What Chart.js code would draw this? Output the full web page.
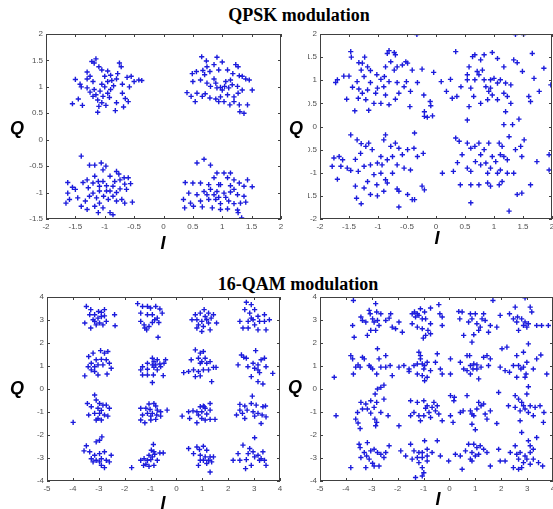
<!DOCTYPE html>
<html>
<head>
<meta charset="utf-8">
<script src="https://cdn.jsdelivr.net/npm/chart.js@4.4.1/dist/chart.umd.min.js"></script>
<style>
  html, body { margin: 0; padding: 0; width: 553px; height: 509px; overflow: hidden; background: #fff; }
  canvas { position: absolute; }
  .lbl { position: absolute; transform: translate(-50%, -50%); white-space: nowrap; color: #000; }
  .title { font: bold 18px "Liberation Serif", "Times New Roman", serif; }
  .axis { font: italic bold 18px "Liberation Sans", Arial, sans-serif; }
</style>
</head>
<body>
<div class="lbl title" style="left:299px; top:15px;">QPSK modulation</div>
<div class="lbl title" style="left:298px; top:284px;">16-QAM modulation</div>

<canvas id="qpskLow"></canvas>
<canvas id="qpskHigh"></canvas>
<canvas id="qamLow"></canvas>
<canvas id="qamHigh"></canvas>

<div class="lbl axis" style="left:17px; top:128px;">Q</div>
<div class="lbl axis" style="left:296px; top:128px;">Q</div>
<div class="lbl axis" style="left:17px; top:388px;">Q</div>
<div class="lbl axis" style="left:295px; top:387px;">Q</div>
<div class="lbl axis" style="left:163px; top:243px;">I</div>
<div class="lbl axis" style="left:437px; top:238px;">I</div>
<div class="lbl axis" style="left:163px; top:503px;">I</div>
<div class="lbl axis" style="left:438px; top:499px;">I</div>

<script>
// received symbols, [I, Q] pairs
const qpskLowNoise = [
  // (-1, 1)
  [-1.55,0.68],[-1.45,0.77],[-1.38,0.65],[-1.5,1.14],[-1.42,1.05],[-1.3,1.28],[-1.22,1.48],[-1.15,1.53],
  [-1.18,1.45],[-1.1,1.38],[-1.05,1.32],[-1.25,1.2],[-1.2,1.1],[-1.3,0.98],[-1.25,0.9],[-1.15,0.85],
  [-1.12,0.75],[-1.05,0.7],[-1.1,0.63],[-0.98,0.65],[-1.12,0.52],[-0.95,0.88],[-0.9,0.95],[-0.85,1.02],
  [-0.8,1.15],[-0.78,1.25],[-0.75,1.45],[-0.72,1.38],[-0.7,1.05],[-0.62,1.18],[-0.55,1.2],[-0.5,1.1],
  [-0.42,1.13],[-0.37,1.12],[-0.58,1.0],[-0.65,0.78],[-0.7,0.88],[-0.6,0.72],[-0.68,0.62],[-0.82,0.55],
  [-0.8,0.7],[-0.92,0.8],[-1.0,1.0],[-1.05,1.05],[-0.95,1.1],[-1.0,1.2],[-0.9,1.22],[-1.08,0.92],
  [-1.18,0.95],[-1.3,1.15],[-1.4,1.0],[-0.95,1.3],[-0.88,1.12],[-1.2,0.82],[-1.03,0.82],
  // (1, 1)
  [0.65,1.57],[0.73,1.49],[0.91,1.56],[1.0,1.47],[0.86,1.42],[0.74,1.38],[0.49,1.25],[0.56,1.29],
  [0.67,1.31],[0.79,1.29],[0.7,1.23],[0.94,1.32],[1.09,1.32],[1.23,1.42],[1.27,1.38],[1.34,1.2],
  [1.4,1.15],[1.46,1.13],[1.29,1.21],[1.18,1.25],[0.5,1.1],[0.63,1.13],[0.86,1.15],[0.4,0.89],
  [0.47,0.82],[0.57,0.88],[0.66,0.82],[0.71,0.87],[0.54,0.72],[0.79,0.79],[0.89,0.77],[0.94,0.72],
  [0.8,1.01],[0.89,1.07],[0.97,0.99],[1.04,1.01],[1.11,0.98],[1.17,1.04],[1.0,0.94],[0.91,0.98],
  [1.14,1.13],[1.26,1.01],[1.34,0.94],[1.51,0.94],[1.27,0.88],[1.09,0.85],[1.2,0.81],[1.03,0.72],
  [1.13,0.66],[1.29,0.66],[1.43,0.66],[1.3,0.53],[1.37,0.5],[0.97,0.81],[1.06,1.1],[0.74,1.07],[1.2,0.72],
  // (-1, -1)
  [-1.4,-0.31],[-1.26,-0.48],[-1.17,-0.48],[-1.06,-0.44],[-1.03,-0.57],[-0.98,-0.5],[-0.8,-0.6],[-0.76,-0.65],
  [-0.67,-0.72],[-0.6,-0.72],[-0.56,-0.83],[-0.66,-0.84],[-0.63,-0.94],[-0.74,-0.93],[-0.86,-0.88],[-0.97,-0.87],
  [-1.09,-0.88],[-1.2,-0.82],[-1.3,-0.76],[-1.37,-0.81],[-1.63,-0.81],[-1.55,-0.9],[-1.5,-0.94],[-1.63,-1.01],
  [-1.66,-1.2],[-1.6,-1.13],[-1.46,-1.1],[-1.4,-1.26],[-1.33,-1.16],[-1.26,-1.07],[-1.2,-1.01],[-1.14,-1.1],
  [-1.09,-1.2],[-1.02,-1.07],[-0.94,-1.13],[-0.86,-1.07],[-0.8,-1.16],[-0.71,-1.13],[-0.66,-1.2],[-0.53,-1.18],
  [-1.17,-1.26],[-1.11,-1.38],[-1.03,-1.29],[-0.91,-1.38],[-0.86,-1.42],[-1.3,-1.32],[-0.97,-0.97],[-1.09,-0.97],
  [-0.91,-0.97],[-0.83,-0.79],[-0.91,-0.69],[-1.17,-0.69],[-1.11,-0.79],[-1.28,-0.91],[-0.8,-1.0],[-1.03,-0.79],[-0.74,-0.76],
  // (1, -1)
  [0.69,-0.37],[0.57,-0.44],[0.8,-0.48],[1.03,-0.63],[1.14,-0.63],[0.91,-0.63],[0.86,-0.72],[1.09,-0.72],
  [1.2,-0.76],[1.43,-0.76],[1.29,-0.82],[0.37,-0.81],[0.5,-0.82],[0.63,-0.82],[0.77,-0.85],[0.94,-0.85],
  [1.14,-0.87],[1.37,-0.88],[1.51,-0.89],[0.43,-1.01],[0.57,-1.04],[0.69,-0.98],[0.8,-0.94],[0.91,-0.98],
  [1.03,-1.01],[1.14,-0.99],[1.26,-1.04],[1.37,-1.07],[0.34,-1.13],[0.46,-1.2],[0.63,-1.16],[0.77,-1.13],
  [0.89,-1.13],[0.97,-1.21],[1.11,-1.16],[1.2,-1.21],[1.31,-1.2],[1.4,-1.18],[0.36,-1.29],[0.51,-1.26],
  [0.66,-1.27],[0.83,-1.29],[0.97,-1.32],[1.09,-1.31],[1.26,-1.33],[1.27,-1.38],[1.33,-1.48],[0.94,-1.09],
  [0.86,-1.04],[0.97,-0.85],[0.74,-1.04],[1.2,-0.94],[1.06,-1.09]
];

const qpskHighNoise = [
  // (-1, 1)
  [-1.47,1.62],[-1.46,1.5],[-1.59,1.09],[-1.5,1.09],[-1.7,1.01],[-1.73,0.95],[-1.54,0.59],[-1.4,0.34],
  [-1.44,0.85],[-1.36,0.97],[-1.33,1.38],[-1.27,1.37],[-1.23,1.5],[-1.18,1.29],[-1.13,1.21],[-1.29,1.22],
  [-1.24,1.08],[-1.33,0.81],[-1.27,0.72],[-1.34,0.61],[-1.21,0.58],[-1.16,0.35],[-1.07,0.5],[-1.02,1.12],
  [-0.95,1.02],[-0.89,1.08],[-0.84,1.58],[-0.81,1.64],[-0.72,1.6],[-0.7,1.55],[-0.78,1.4],[-0.87,1.29],
  [-0.72,1.22],[-0.67,1.29],[-0.58,1.33],[-0.52,1.4],[-0.49,1.37],[-0.81,0.97],[-0.9,0.86],[-1.01,0.83],
  [-0.95,0.5],[-0.81,0.47],[-0.7,0.59],[-0.64,0.72],[-0.55,0.86],[-0.51,0.97],[-0.45,0.43],[-0.44,0.76],
  [-0.41,1.22],[-0.24,1.24],[-0.04,1.17],[-0.32,0.95],[-0.21,0.68],[-0.1,0.54],[-0.09,0.45],[-0.2,0.32],
  [-0.15,0.2],[-0.06,0.23],[-0.2,0.22],[-1.13,0.95],[-1.18,0.79],[-1.04,0.72],[-0.87,0.68],[-0.67,0.95],
  // (1, 1)
  [-0.33,1.99],[0.34,1.62],[0.25,1.02],[0.09,0.97],[0.18,0.76],[0.28,0.61],[0.36,0.65],[0.43,0.86],
  [0.54,1.01],[0.57,1.29],[0.63,1.51],[0.67,1.55],[0.77,1.44],[0.83,1.55],[0.97,1.6],[1.06,1.47],
  [0.71,1.19],[0.74,1.12],[0.8,1.22],[0.83,1.01],[0.94,1.01],[1.0,1.04],[1.06,0.94],[1.11,1.01],
  [1.2,0.94],[1.29,0.9],[1.17,1.29],[1.34,1.44],[1.4,1.38],[1.37,1.99],[1.51,1.99],[1.49,1.19],
  [1.66,1.58],[1.69,1.04],[1.86,1.26],[1.98,0.9],[1.78,0.76],[1.63,0.54],[1.6,0.65],[0.6,0.83],
  [0.65,0.65],[0.77,0.5],[0.89,0.58],[0.97,0.68],[1.06,0.58],[1.2,0.32],[1.29,0.5],[1.17,0.04],
  [1.32,0.04],[1.43,0.16],[0.54,0.14],[0.57,0.43],[0.86,0.86],[0.94,0.83],[0.91,0.76],[1.17,0.72],
  [1.23,0.65],[0.54,1.12],[0.67,1.01],
  // (-1, -1)
  [-1.47,-0.18],[-1.76,-0.68],[-1.67,-0.65],[-1.79,-0.86],[-1.7,-1.14],[-1.61,-0.72],[-1.53,-0.9],[-1.47,-0.95],
  [-1.36,-0.29],[-1.29,-0.37],[-1.21,-0.43],[-1.16,-0.36],[-1.1,-0.5],[-1.3,-0.58],[-1.39,-0.71],[-1.34,-0.97],
  [-1.24,-0.86],[-1.13,-0.83],[-1.01,-0.79],[-0.95,-0.65],[-0.9,-0.29],[-0.87,-0.18],[-0.78,-0.43],[-0.7,-0.36],
  [-0.64,-0.47],[-0.58,-0.61],[-0.49,-0.5],[-0.37,-0.14],[-0.38,-0.47],[-0.32,-0.65],[-0.22,-0.58],[-0.84,-0.72],
  [-0.75,-0.65],[-0.67,-0.83],[-0.55,-0.9],[-0.44,-0.94],[-0.95,-1.01],[-1.07,-1.04],[-0.87,-1.15],[-0.75,-1.01],
  [-1.18,-1.19],[-1.39,-1.29],[-1.24,-1.33],[-1.13,-1.47],[-1.01,-1.5],[-0.9,-1.4],[-0.84,-1.22],[-1.29,-1.67],
  [-0.64,-1.4],[-0.67,-1.35],[-0.49,-1.47],[-0.41,-1.58],[-0.37,-1.58],[-0.64,-1.74],[-0.24,-1.29],[-0.2,-1.37],
  [-1.02,-1.26],[-1.37,-1.55],[-1.64,-0.86],[-0.93,-0.83],
  // (1, -1)
  [0.11,-1.01],[0.3,-0.97],[0.34,-0.25],[0.4,-0.32],[0.45,-0.61],[0.54,-0.36],[0.6,-0.47],[0.67,-0.43],
  [0.74,-0.36],[0.83,-0.5],[0.91,-0.36],[0.97,-0.65],[1.09,-0.36],[1.14,-0.43],[1.11,-0.61],[1.17,-0.65],
  [1.26,-0.22],[1.37,-0.5],[1.46,-0.43],[1.52,-0.29],[1.48,-0.65],[1.74,-0.76],[1.95,-0.61],[1.95,-0.94],
  [0.54,-0.9],[0.6,-0.97],[0.68,-0.76],[0.77,-0.83],[0.86,-0.79],[0.94,-0.9],[1.06,-1.01],[1.11,-0.94],
  [1.23,-1.01],[0.42,-1.26],[0.6,-1.26],[0.74,-1.26],[0.89,-1.22],[0.94,-1.29],[1.09,-1.26],[1.14,-1.19],
  [1.4,-1.47],[1.48,-1.44],[1.63,-1.26],[0.6,-1.65],[1.26,-1.83],[0.37,-0.78],[1.23,-0.72],[1.34,-1.01],
  [0.77,-0.61],[1.03,-0.76],[0.89,-1.01]
];

const qamLowNoise = [
  // row Q = 3
  [-3.48,3.59],[-3.31,3.45],[-3.54,2.87],[-3.31,2.65],[-3.16,3.23],[-3.22,3.01],[-3.03,3.08],[-2.9,3.33],
  [-2.78,3.45],[-2.97,2.87],[-2.84,2.79],[-3.1,2.79],[-2.71,2.94],[-2.39,3.23],[-2.37,2.75],[-3.01,3.37],
  [-2.9,3.15],[-2.78,3.18],[-3.16,2.94],[-3.35,3.23],
  [-1.5,3.71],[-1.31,3.59],[-1.38,3.3],[-1.12,3.59],[-1.0,3.52],[-0.8,3.59],[-0.64,3.48],[-1.12,3.23],
  [-0.93,3.23],[-0.74,3.08],[-0.55,3.3],[-1.38,2.94],[-1.25,2.79],[-1.06,2.72],[-1.15,2.57],[-0.93,2.89],
  [-0.84,3.01],[-0.68,2.89],[-0.71,2.25],[-1.22,2.65],
  [0.73,3.23],[0.92,3.3],[1.07,3.45],[1.24,3.3],[1.43,3.23],[0.79,3.01],[0.98,2.94],[1.17,3.01],
  [1.34,3.08],[1.55,2.87],[0.85,2.79],[1.04,2.72],[1.24,2.87],[1.3,2.57],[0.98,2.5],[0.79,2.65],
  [0.6,3.01],[1.11,3.15],
  [2.7,3.77],[2.89,3.67],[2.64,3.45],[2.83,3.3],[3.02,3.45],[3.15,3.16],[3.4,3.23],[2.45,2.94],
  [2.77,2.94],[2.96,3.01],[3.21,2.94],[3.4,2.94],[3.59,3.01],[2.77,2.65],[3.15,2.57],[3.46,2.57],
  [2.57,2.65],[3.02,2.79],[2.89,3.08],
  // row Q = 1
  [-3.39,1.41],[-3.22,1.56],[-2.93,1.67],[-2.78,1.56],[-2.65,1.63],[-3.29,1.12],[-3.1,1.27],[-2.9,1.29],
  [-2.71,1.27],[-2.59,1.12],[-2.52,0.9],[-3.41,0.97],[-3.16,0.97],[-3.03,1.05],[-2.84,1.05],[-3.54,0.57],
  [-3.16,0.76],[-3.03,0.61],[-2.68,0.65],[-3.29,0.83],
  [-1.31,0.97],[-1.12,1.12],[-0.93,1.34],[-0.87,1.19],[-0.74,1.27],[-0.61,0.97],[-0.42,1.27],[-0.48,1.12],
  [-1.12,0.86],[-0.93,1.05],[-0.8,1.05],[-0.74,0.83],[-1.31,0.61],[-1.12,0.61],[-0.89,0.61],[-0.51,0.58],
  [-0.93,0.28],[-1.38,0.83],[-0.64,1.09],[-0.87,0.94],
  [0.73,1.7],[0.92,1.56],[1.04,1.63],[0.57,1.27],[0.85,1.34],[0.98,1.19],[1.11,1.34],[1.17,1.12],
  [1.3,1.19],[1.43,0.94],[1.53,0.94],[0.28,0.71],[0.47,0.76],[0.66,0.83],[0.85,0.76],[1.04,0.83],
  [1.24,0.83],[0.73,0.54],[0.92,0.57],[1.36,0.32],[0.92,1.12],
  [2.51,1.48],[2.6,1.38],[3.06,1.67],[3.4,1.34],[3.27,1.27],[2.96,1.12],[3.15,1.05],[3.46,0.97],
  [3.72,0.68],[2.38,1.05],[2.76,0.97],[3.02,0.9],[3.15,0.83],[3.21,0.71],[2.89,0.54],[3.15,0.32],
  [3.34,0.22],[2.7,1.34],
  // row Q = -1
  [-3.16,-0.26],[-3.1,-0.48],[-3.44,-0.63],[-3.03,-0.84],[-2.97,-0.63],[-2.84,-0.7],[-2.71,-0.7],[-3.29,-0.77],
  [-3.39,-1.13],[-3.16,-1.06],[-2.97,-1.06],[-2.78,-1.13],[-2.65,-1.18],[-3.03,-1.28],[-3.1,-1.35],[-2.9,-1.35],
  [-2.59,-0.84],[-2.9,-0.93],[-3.99,-1.45],
  [-1.38,-0.84],[-1.18,-0.84],[-0.87,-0.63],[-0.8,-0.74],[-1.02,-0.89],[-0.74,-0.92],[-0.61,-0.99],[-0.36,-0.92],
  [-1.31,-1.13],[-1.12,-1.06],[-0.93,-1.06],[-0.76,-1.13],[-1.38,-1.35],[-1.22,-1.47],[-0.99,-1.35],[-0.8,-1.32],
  [-0.99,-1.18],[-0.61,-1.18],[-1.06,-0.65],
  [0.22,-1.18],[0.47,-0.99],[0.64,-0.95],[0.79,-0.99],[0.92,-0.77],[1.04,-0.74],[1.11,-0.84],[1.3,-0.63],
  [1.3,-0.92],[0.98,-0.99],[1.17,-1.09],[0.51,-1.28],[0.79,-1.47],[0.98,-1.28],[1.11,-1.35],[1.3,-1.32],
  [1.49,-1.32],[0.85,-1.13],[1.07,-0.77],
  [2.93,-0.31],[2.45,-0.67],[2.64,-0.74],[2.89,-0.63],[3.08,-0.7],[3.34,-0.77],[3.44,-0.74],[2.32,-1.13],
  [2.55,-1.06],[2.73,-0.92],[2.96,-0.99],[3.15,-1.06],[3.31,-1.13],[3.46,-1.21],[2.64,-1.28],[3.02,-1.18],
  [3.27,-1.5],[2.45,-0.92],
  // row Q = -3
  [-2.88,-2.08],[-3.1,-2.3],[-2.97,-2.23],[-3.48,-2.47],[-3.57,-2.69],[-3.35,-2.73],[-3.16,-2.88],[-2.97,-2.81],
  [-2.78,-2.73],[-2.52,-2.88],[-3.1,-3.1],[-2.9,-3.03],[-2.71,-3.1],[-2.59,-3.17],[-3.22,-3.17],[-2.9,-3.32],
  [-2.78,-3.42],[-3.29,-3.03],[-2.97,-3.17],
  [-0.89,-2.41],[-0.97,-2.66],[-0.87,-2.73],[-0.64,-2.78],[-0.51,-2.78],[-1.06,-2.88],[-0.93,-2.95],[-1.25,-3.03],
  [-1.12,-3.1],[-0.99,-3.07],[-1.38,-3.1],[-1.18,-3.27],[-1.06,-3.36],[-0.87,-3.32],[-0.74,-3.1],[-1.27,-3.32],
  [-1.73,-3.42],[-0.84,-2.84],
  [0.47,-2.59],[0.79,-2.52],[0.89,-2.63],[1.04,-2.49],[1.17,-2.66],[0.66,-2.81],[0.92,-2.88],[1.11,-2.95],
  [1.3,-2.95],[1.43,-2.95],[0.92,-3.1],[1.24,-3.1],[1.36,-3.17],[0.85,-3.32],[1.17,-3.24],[1.3,-3.61],[1.04,-3.1],
  [3.02,-2.12],[2.57,-2.44],[2.83,-2.59],[3.34,-2.73],[2.96,-2.73],[3.15,-2.88],[2.38,-2.81],[2.77,-2.81],
  [2.19,-3.1],[2.45,-3.1],[2.7,-3.07],[3.02,-2.95],[3.27,-3.03],[3.4,-3.1],[3.46,-3.32],[2.67,-3.46],
  [2.89,-3.32],[3.21,-3.1]
];

const qamHighNoise = [
  // row Q = 3
  [-3.71,3.85],[-3.74,2.76],[-3.68,2.25],[-3.42,3.13],[-3.36,2.98],[-3.23,2.91],[-3.06,3.27],[-2.97,3.05],
  [-2.91,2.91],[-2.81,3.35],[-2.78,2.98],[-3.17,2.33],[-3.04,2.55],[-2.85,2.55],[-2.72,2.76],[-2.65,3.27],
  [-2.85,3.71],[-2.46,2.98],[-2.33,3.08],[-2.27,3.27],[-2.21,2.69],[-2.08,2.62],[-1.95,2.91],[-1.82,2.47],[-3.1,3.42],
  [-1.44,3.27],[-1.35,3.35],[-1.24,3.27],[-1.18,3.2],[-1.05,3.05],[-0.92,3.05],[-0.73,3.52],[-0.41,3.67],
  [-0.37,3.27],[-0.28,3.13],[-0.28,2.76],[-1.44,2.84],[-1.24,2.69],[-1.05,2.62],[-0.83,2.55],[-1.01,2.21],
  [-0.92,2.33],[-0.73,2.4],[-0.73,2.84],[-1.12,3.49],[-1.31,3.13],[-0.96,3.35],
  [0.36,3.37],[0.49,3.35],[0.4,3.05],[0.81,3.27],[1.0,3.27],[1.32,3.27],[1.68,3.85],[0.74,2.91],
  [0.87,3.05],[1.06,2.84],[1.19,2.69],[1.13,2.55],[0.94,2.36],[0.87,2.04],[0.55,2.33],[1.38,2.98],
  [1.58,2.76],[1.83,2.69],[1.96,3.2],[1.51,2.47],[1.26,3.05],
  [2.54,3.56],[2.92,3.96],[2.32,3.27],[2.47,3.05],[2.63,3.13],[2.79,3.05],[2.92,2.91],[3.05,2.84],
  [3.12,3.56],[3.18,3.35],[2.86,2.76],[2.99,2.69],[2.67,2.55],[3.05,1.96],[3.37,2.76],[3.56,2.76],
  [3.82,2.76],[2.22,1.82],[2.03,1.75],[2.6,2.91],
  // row Q = 1
  [-3.81,1.45],[-3.74,1.31],[-3.71,0.65],[-3.62,0.95],[-3.53,1.05],[-3.45,0.95],[-3.36,1.38],[-3.1,1.02],
  [-3.04,0.95],[-2.97,0.87],[-2.78,1.75],[-2.72,1.31],[-2.46,1.45],[-2.81,0.65],[-2.65,0.95],[-2.46,0.95],
  [-2.29,1.02],[-1.95,0.95],[-2.21,0.58],[-2.65,0.07],[-2.53,0.17],[-2.78,0.0],[-2.87,-0.22],[-4.45,0.51],[-3.29,1.31],
  [-1.56,0.87],[-1.56,0.76],[-1.24,1.09],[-1.18,1.6],[-1.12,1.31],[-1.05,1.09],[-0.96,1.02],[-0.86,1.16],
  [-1.24,0.65],[-1.05,0.58],[-0.96,0.36],[-0.86,0.51],[-0.73,0.8],[-0.54,1.16],[-0.47,1.53],[-0.35,0.87],
  [-0.28,0.65],[-1.76,1.02],[-1.37,1.02],[-0.99,0.87],[-1.12,1.45],
  [0.04,1.31],[0.04,0.65],[0.42,1.16],[0.55,0.87],[0.68,1.45],[0.78,1.45],[0.81,1.02],[0.94,1.09],
  [1.06,1.05],[1.06,0.87],[0.81,0.65],[0.68,0.8],[1.13,0.44],[1.32,1.38],[1.45,1.45],[1.58,1.31],
  [1.51,1.02],[1.22,0.95],[1.96,0.95],[2.15,0.8],[0.91,0.87],
  [2.6,1.45],[2.86,1.6],[2.99,1.16],[2.67,1.02],[2.76,0.87],[2.86,0.95],[2.6,0.51],[2.96,0.65],
  [3.24,0.87],[3.37,1.31],[3.53,1.48],[2.32,0.73],[2.47,1.02],[3.76,0.65],[3.05,0.1],[2.92,0.51],
  // row Q = -1
  [-3.42,-0.58],[-3.23,-0.65],[-3.55,-1.02],[-3.62,-1.31],[-3.53,-1.48],[-3.45,-1.72],[-3.17,-0.87],[-3.04,-1.05],
  [-2.91,-0.8],[-2.81,-0.58],[-2.88,-1.31],[-2.81,-1.45],[-2.85,-1.6],[-2.65,-1.02],[-2.53,-0.44],[-2.37,-1.16],
  [-1.95,-1.6],[-4.38,-1.16],[-3.04,-0.51],[-3.36,-0.87],
  [-1.5,-0.51],[-1.24,-0.58],[-0.99,-0.51],[-0.86,-0.73],[-0.67,-0.8],[-0.6,-0.58],[-0.54,-0.95],[-1.37,-1.02],
  [-1.18,-1.16],[-0.99,-1.16],[-0.79,-1.02],[-0.73,-1.24],[-0.41,-1.09],[-0.28,-1.38],[-1.12,-1.38],[-1.5,-1.16],
  [-0.47,-0.73],[-0.92,-0.84],
  [0.04,-0.29],[0.19,-0.36],[0.17,-0.51],[0.04,-1.16],[0.14,-1.45],[0.42,-1.02],[0.53,-0.95],[0.68,-0.29],
  [0.81,-0.95],[0.87,-1.09],[0.94,-1.16],[0.87,-1.53],[1.0,-1.77],[1.13,-0.58],[1.22,-0.73],[1.32,-0.65],
  [1.38,-1.09],[1.45,-1.31],[1.58,-0.95],[1.83,-1.5],[1.9,-0.15],[1.06,-0.87],
  [2.28,-0.73],[2.54,-0.29],[2.67,-0.44],[2.79,-0.58],[2.99,-0.22],[2.54,-0.8],[2.73,-0.95],[2.92,-0.87],
  [3.05,-1.02],[3.12,-0.73],[3.31,-0.8],[3.5,-0.73],[3.65,-1.02],[3.63,-1.45],[2.73,-1.38],[2.79,-1.89],
  [3.24,-1.16],[2.86,-0.73],
  // row Q = -3
  [-3.49,-2.4],[-3.45,-2.55],[-3.81,-3.42],[-3.29,-2.76],[-3.17,-2.33],[-3.2,-2.91],[-3.04,-2.69],[-2.91,-2.62],
  [-2.78,-2.76],[-2.65,-2.84],[-2.46,-2.76],[-2.33,-2.47],[-3.1,-3.05],[-2.97,-3.23],[-2.91,-3.35],[-2.72,-3.35],
  [-3.23,-3.42],[-3.42,-2.98],[-1.88,-2.69],[-2.53,-2.98],
  [-1.5,-2.4],[-1.37,-2.69],[-1.18,-2.76],[-1.05,-2.76],[-0.96,-2.25],[-0.86,-2.62],[-0.67,-2.76],[-1.24,-2.98],
  [-1.05,-2.98],[-0.86,-2.91],[-0.35,-2.91],[-0.47,-2.25],[-1.44,-3.05],[-1.18,-3.2],[-1.05,-3.42],[-1.31,-3.85],
  [-1.05,-3.78],[-0.99,-3.64],[-0.86,-3.13],[-1.69,-2.91],
  [-0.03,-3.13],[0.23,-2.84],[0.42,-2.91],[0.49,-3.49],[0.62,-2.69],[0.74,-2.4],[0.94,-2.4],[1.06,-2.55],
  [1.19,-2.47],[1.32,-2.62],[0.87,-2.76],[1.0,-2.91],[0.87,-3.13],[1.45,-2.76],[1.58,-3.35],[1.13,-2.84],
  [1.9,-2.62],[1.96,-3.13],[0.81,-3.05],
  [2.54,-2.47],[3.05,-2.25],[3.12,-2.47],[3.24,-2.62],[3.37,-2.11],[2.35,-2.76],[2.6,-2.84],[2.73,-2.76],
  [2.92,-2.91],[2.67,-3.05],[2.86,-3.2],[2.99,-3.05],[3.24,-3.05],[3.44,-3.2],[3.6,-3.35],[2.47,-3.42],
  [2.67,-3.49],[2.79,-3.42],[3.12,-3.27],[2.15,-3.13],[3.12,-2.76]
];

// MATLAB style box with inward tick marks on all four sides
const boxTicks = {
  id: 'boxTicks',
  afterDatasetsDraw(chart) {
    const {ctx, chartArea: a, scales: {x, y}} = chart;
    ctx.save();
    ctx.strokeStyle = '#404040';
    ctx.lineWidth = 1;
    ctx.beginPath();
    for (const t of x.ticks) {
      const px = Math.round(x.getPixelForValue(t.value)) + 0.5;
      ctx.moveTo(px, a.bottom); ctx.lineTo(px, a.bottom - 3);
      ctx.moveTo(px, a.top); ctx.lineTo(px, a.top + 3);
    }
    for (const t of y.ticks) {
      const py = Math.round(y.getPixelForValue(t.value)) + 0.5;
      ctx.moveTo(a.left, py); ctx.lineTo(a.left + 3, py);
      ctx.moveTo(a.right, py); ctx.lineTo(a.right - 3, py);
    }
    ctx.stroke();
    ctx.strokeRect(Math.round(a.left) + 0.5, Math.round(a.top) + 0.5,
                   Math.round(a.right - a.left) - 1, Math.round(a.bottom - a.top) - 1);
    ctx.restore();
  }
};

const tickFont = {family: '"Liberation Sans", Arial, sans-serif', size: 8};

function makePanel(id, points, left, top, plotW, plotH, yAxisW, xr, yr) {
  const canvas = document.getElementById(id);
  const pad = 8, xAxisH = 14;
  canvas.width = yAxisW + plotW + pad;
  canvas.height = pad + plotH + xAxisH;
  canvas.style.left = (left - yAxisW) + 'px';
  canvas.style.top = (top - pad) + 'px';

  new Chart(canvas, {
    type: 'scatter',
    data: {
      datasets: [{
        data: points.map(p => ({x: p[0], y: p[1]})),
        pointStyle: 'cross',
        pointRadius: 2.6,
        pointBorderWidth: 1.4,
        borderColor: '#1c1cdc',
        backgroundColor: '#1c1cdc'
      }]
    },
    options: {
      animation: false,
      responsive: false,
      devicePixelRatio: 1,
      layout: {padding: {top: pad, right: pad, bottom: 0, left: 0}},
      plugins: {legend: {display: false}, tooltip: {enabled: false}},
      scales: {
        x: {
          type: 'linear', min: xr[0], max: xr[1],
          afterFit: s => { s.height = xAxisH; },
          grid: {display: false, drawTicks: false},
          border: {display: false},
          ticks: {stepSize: xr[2], autoSkip: false, maxRotation: 0, padding: 3,
                  font: tickFont, color: '#505050', callback: v => String(v)}
        },
        y: {
          type: 'linear', min: yr[0], max: yr[1],
          afterFit: s => { s.width = yAxisW; },
          grid: {display: false, drawTicks: false},
          border: {display: false},
          ticks: {stepSize: yr[2], autoSkip: false, padding: 3,
                  font: tickFont, color: '#505050', callback: v => String(v)}
        }
      }
    },
    plugins: [boxTicks]
  });
}

makePanel('qpskLow', qpskLowNoise, 46, 34, 235, 185, 30, [-2, 2, 0.5], [-1.5, 2, 0.5]);
makePanel('qpskHigh', qpskHighNoise, 320, 34, 232, 185, 12, [-2, 2, 0.5], [-2, 2, 0.5]);
makePanel('qamLow', qamLowNoise, 47, 297, 233, 184, 30, [-5, 4, 1], [-4, 4, 1]);
makePanel('qamHigh', qamHighNoise, 320, 297, 233, 184, 15, [-5, 4, 1], [-4, 4, 1]);
</script>
</body>
</html>
